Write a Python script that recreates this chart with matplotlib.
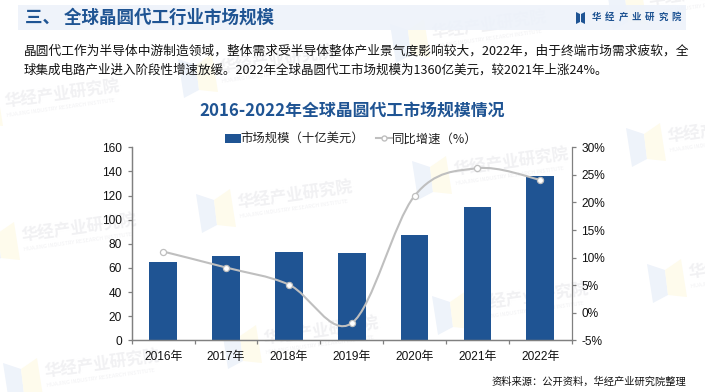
import numpy as np
import matplotlib
matplotlib.use('Agg')
import matplotlib.pyplot as plt
from matplotlib.path import Path
from matplotlib.patches import PathPatch, Polygon, Rectangle

plt.rcParams['font.family'] = ['Noto Sans CJK SC', 'DejaVu Sans']
chart_font = ['Liberation Sans', 'Noto Sans CJK SC']

years = ['2016年', '2017年', '2018年', '2019年', '2020年', '2021年', '2022年']
market = [65, 70, 73, 72, 87, 110.5, 136]
growth = [11.1, 8.2, 5.1, -1.9, 21.2, 26.2, 24.1]
left_ticks = [0, 20, 40, 60, 80, 100, 120, 140, 160]
right_ticks = [-5, 0, 5, 10, 15, 20, 25, 30]

heading = '三、 全球晶圆代工行业市场规模'
brand = '华经产业研究院'
brand_en = 'HUAJING INDUSTRY RESEARCH INSTITUTE'
body1 = '晶圆代工作为半导体中游制造领域，整体需求受半导体整体产业景气度影响较大，2022年，由于终端市场需求疲软，全'
body2 = '球集成电路产业进入阶段性增速放缓。2022年全球晶圆代工市场规模为1360亿美元，较2021年上涨24%。'
chart_title = '2016-2022年全球晶圆代工市场规模情况'
source = '资料来源：公开资料，华经产业研究院整理'

# watermark logo corners (left edge x, top y in pixels)
marks = [(-37, 87), (178, 53), (390, 18), (607, -15),
         (-20, 221), (196, 188), (412, 155), (626, 122),
         (3, 357), (222, 324), (432, 290), (647, 258)]

W, H = 705, 392
BLUE = '#1f5493'
GREY = '#808080'
fig = plt.figure(figsize=(W / 100, H / 100), dpi=100)

# full figure layer in pixel coords
bg = fig.add_axes([0, 0, 1, 1], zorder=0)
bg.set_xlim(0, W)
bg.set_ylim(H, 0)
bg.axis('off')

for x, y in marks:
    bg.add_patch(Polygon([(x, y + 6), (x + 18, y + 12), (x + 21, y + 37), (x + 6, y + 45)],
                         fc='#eef3fa', ec='none'))
    bg.add_patch(Polygon([(x + 18, y + 12), (x + 34, y + 1), (x + 40, y + 39), (x + 21, y + 37)],
                         fc='#fefbec', ec='none'))
    bg.text(x + 42, y + 20, brand, fontsize=12, fontweight='bold', color='#f1f1f3',
            rotation=8, rotation_mode='anchor', va='baseline', ha='left')
    bg.text(x + 44, y + 30, brand_en, fontsize=4, color='#f1f1f3',
            rotation=8, rotation_mode='anchor', va='baseline', ha='left')

bg.add_patch(Rectangle((18, 5), 668, 25, fc='#edf2fa', ec='none', alpha=0.88, zorder=3))
bg.text(25, 18, heading, fontsize=12.6, fontweight='bold', color=BLUE, va='center', ha='left', zorder=4)

# small header logo and spaced brand name
bg.add_patch(Polygon([(576, 12), (580, 14), (580, 22), (576, 24)], fc=BLUE, ec='none', zorder=4))
bg.add_patch(Polygon([(585, 12), (581, 14), (581, 22), (585, 24)], fc=BLUE, ec='none', zorder=4))
for i, ch in enumerate(brand):
    bg.text(592 + i * 13.3, 16.7, ch, fontsize=6.8, fontweight='bold', color=BLUE,
            va='center', ha='left', zorder=4)

bg.text(24, 51, body1, fontsize=9.15, color='#111111', va='center', ha='left', zorder=4)
bg.text(24, 70, body2, fontsize=9.0, color='#111111', va='center', ha='left', zorder=4)
bg.text(352.5, 111, chart_title, fontsize=12.15, fontweight='bold', color=BLUE,
        va='center', ha='center', zorder=4)
bg.text(686, 382, source, fontsize=7.4, color='#111111', va='center', ha='right', zorder=4)

# chart
ax = fig.add_axes([131.7 / W, 1 - 340.3 / H, 440 / W, 193 / H], zorder=2)
ax.patch.set_alpha(0)
xs = np.arange(len(years))
ax.bar(xs, market, width=0.44, color=BLUE, zorder=2)
ax.set_xlim(-0.5, len(years) - 0.5)
ax.set_ylim(0, 160)
ax.set_yticks(left_ticks)
ax.set_xticks(list(xs - 0.5) + [len(years) - 0.5])
ax.set_xticklabels([])
ax.set_xticks(xs, labels=years, minor=True)
ax.tick_params(axis='x', which='major', length=3, width=0.9, color=GREY, direction='out')
ax.tick_params(axis='x', which='minor', length=0, pad=8, labelsize=8.6, labelcolor='#111111')
ax.tick_params(axis='y', length=3, width=0.9, color=GREY, pad=4, labelsize=8.6, labelcolor='#111111')

ax2 = ax.twinx()
ax2.patch.set_alpha(0)
ax2.set_ylim(-5, 30)
ax2.set_yticks(right_ticks)
ax2.set_yticklabels([f'{v}%' for v in right_ticks])
ax2.tick_params(axis='y', length=3, width=0.9, color=GREY, pad=4, labelsize=8.6, labelcolor='#111111')
for a in (ax, ax2):
    a.spines['top'].set_visible(False)
    for side in ('left', 'right', 'bottom'):
        a.spines[side].set_color(GREY)
        a.spines[side].set_linewidth(0.9)
    for lab in a.get_xticklabels(minor=True) + a.get_yticklabels():
        lab.set_family(chart_font)
ax.spines['right'].set_visible(False)

# smoothed line the way a spreadsheet does it, bezier through the points
g = np.array(growth, dtype=float)
ext = np.r_[g[0], g, g[-1]]
xe = np.r_[xs[0], xs, xs[-1]].astype(float)
verts = [(xs[0], g[0])]
codes = [Path.MOVETO]
for i in range(1, len(xe) - 2):
    c1 = (xe[i] + (xe[i + 1] - xe[i - 1]) / 6, ext[i] + (ext[i + 1] - ext[i - 1]) / 6)
    c2 = (xe[i + 1] - (xe[i + 2] - xe[i]) / 6, ext[i + 1] - (ext[i + 2] - ext[i]) / 6)
    verts += [c1, c2, (xe[i + 1], ext[i + 1])]
    codes += [Path.CURVE4] * 3
ax2.add_patch(PathPatch(Path(verts, codes), fc='none', ec='#bfbfbf', lw=1.5, zorder=3))
ax2.plot(xs, g, ls='none', marker='o', ms=4.4, mfc='white', mec='#bfbfbf', mew=0.9, zorder=4)

# legend
bar_h = ax.bar([0], [0], color=BLUE)
line_h, = ax2.plot([], [], color='#bfbfbf', lw=1.5, marker='o', ms=3.6, mfc='white', mec='#bfbfbf')
leg = fig.legend([bar_h, line_h], ['市场规模（十亿美元）', '同比增速（%）'], ncol=2, frameon=False,
                 loc='center', bbox_to_anchor=(351 / W, 1 - 139 / H), fontsize=8.9,
                 handlelength=1.3, handletextpad=0.0, columnspacing=0.9, labelcolor='#222222')

fig.savefig('out.png', dpi=100)
